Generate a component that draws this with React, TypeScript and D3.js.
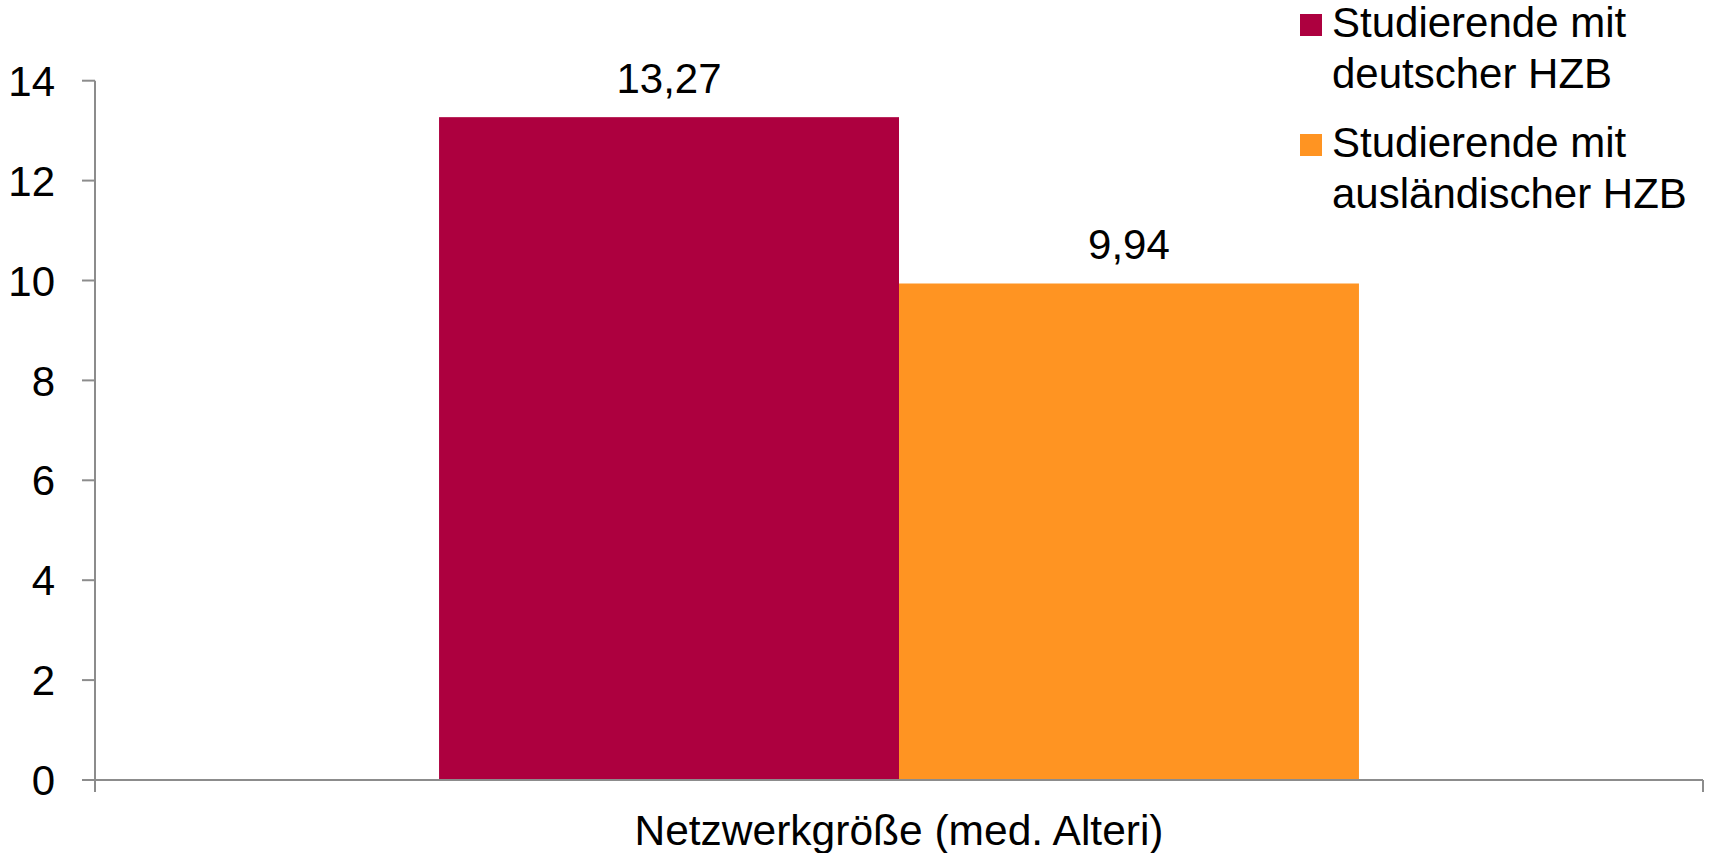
import React from "react";
import * as d3 from "d3";

const categories = ["Netzwerkgröße (med. Alteri)"];
const seriesNames = ["Studierende mit deutscher HZB", "Studierende mit ausländischer HZB"];
const seriesLegendLines = [
  ["Studierende mit", "deutscher HZB"],
  ["Studierende mit", "ausländischer HZB"],
];
const seriesValues = [13.27, 9.94];
const seriesLabels = ["13,27", "9,94"];
const seriesColors = ["#AD003F", "#FF9422"];
const yTicks = [0, 2, 4, 6, 8, 10, 12, 14];

const W = 1711;
const H = 853;
const FONT = "'Liberation Sans', Arial, sans-serif";
const AXIS = "#8C8C8C";

export default function App() {
  const x0 = 95;
  const x1 = 1703;
  const yBase = 780;
  const yTop = 80.7;

  const y = d3.scaleLinear().domain([0, 14]).range([yBase, yTop]);
  const xBand = d3.scaleBand<string>().domain(categories).range([x0, x1]).paddingInner(0).paddingOuter(0.374);
  const xSub = d3.scaleBand<string>().domain(seriesNames).range([0, xBand.bandwidth()]).padding(0);

  return (
    <svg
      width={W}
      height={H}
      style={{ position: "absolute", left: 0, top: 0, background: "#fff" }}
      fontFamily={FONT}
    >
      {/* bars */}
      {categories.map((c) => (
        <g key={c} transform={`translate(${xBand(c)},0)`}>
          {seriesNames.map((s, i) => (
            <g key={s}>
              <rect
                x={xSub(s)}
                y={y(seriesValues[i])}
                width={xSub.bandwidth()}
                height={yBase - y(seriesValues[i])}
                fill={seriesColors[i]}
              />
              <text
                x={(xSub(s) as number) + xSub.bandwidth() / 2}
                y={y(seriesValues[i]) - 24}
                textAnchor="middle"
                fontSize={42}
                fill="#000"
              >
                {seriesLabels[i]}
              </text>
            </g>
          ))}
        </g>
      ))}

      {/* y axis */}
      <line x1={x0} x2={x0} y1={yTop} y2={yBase + 12} stroke={AXIS} strokeWidth={2} />
      {yTicks.map((t) => (
        <g key={t}>
          <line x1={x0 - 13} x2={x0} y1={y(t)} y2={y(t)} stroke={AXIS} strokeWidth={2} />
          <text x={55} y={y(t)} dy="0.36em" textAnchor="end" fontSize={42} fill="#000">
            {t}
          </text>
        </g>
      ))}

      {/* x axis */}
      <line x1={x0 - 13} x2={x1} y1={yBase} y2={yBase} stroke={AXIS} strokeWidth={2} />
      <line x1={x1} x2={x1} y1={yBase} y2={yBase + 12} stroke={AXIS} strokeWidth={2} />
      {categories.map((c) => (
        <text
          key={c}
          x={(xBand(c) as number) + xBand.bandwidth() / 2}
          y={845}
          textAnchor="middle"
          fontSize={42.5}
          fill="#000"
        >
          {c}
        </text>
      ))}

      {/* legend */}
      {seriesNames.map((s, i) => (
        <g key={s} transform={`translate(0,${i * 120})`}>
          <rect x={1300} y={14} width={22} height={22} fill={seriesColors[i]} />
          {seriesLegendLines[i].map((line, j) => (
            <text key={j} x={1332} y={37 + j * 51} fontSize={42} fill="#000">
              {line}
            </text>
          ))}
        </g>
      ))}
    </svg>
  );
}
